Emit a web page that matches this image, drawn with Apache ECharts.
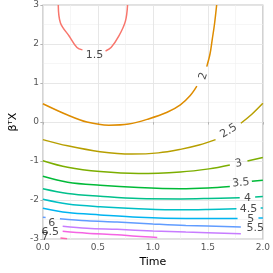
<!DOCTYPE html>
<html><head><meta charset="utf-8">
<script src="https://cdn.jsdelivr.net/npm/echarts@6/dist/echarts.min.js"></script>
<style>html,body{margin:0;padding:0;background:#fff}#c{width:273px;height:273px}</style>
</head><body><div id="c"></div>
<script>
// contour levels and colours
const levels = ['1.5','2','2.5','3','3.5','4','4.5','5','5.5','6','6.5','7'];
const levelColors = ['#F8766D','#DE8C00','#B79F00','#7CAE00','#00BA38','#00C08B','#00BFC4','#00B4F0','#619CFF','#C77CFF','#F564E3','#FF64B0'];

// contour line segments [time, beta'X]
const level15 = [
  [[0.14,3.0],[0.16,2.54],[0.24,2.2],[0.31,1.91],[0.36,1.85]],
  [[0.57,1.82],[0.62,1.91],[0.69,2.2],[0.75,2.58],[0.77,3.0]]
];
const level2 = [
  [[0,0.47],[0.225,0.18],[0.4,0.0],[0.6,-0.08],[0.78,-0.05],[0.96,0.08],[1.13,0.25],[1.25,0.44],[1.34,0.68],[1.40,0.92]],
  [[1.49,1.42],[1.52,1.75],[1.54,2.12],[1.56,2.5],[1.58,3.0]]
];
const level25 = [
  [[0,-0.45],[0.225,-0.61],[0.52,-0.76],[0.81,-0.82],[1.05,-0.79],[1.25,-0.70],[1.42,-0.59],[1.57,-0.45]],
  [[1.80,-0.03],[1.9,0.2],[2.0,0.48]]
];
const level3 = [
  [[0,-0.99],[0.225,-1.16],[0.52,-1.27],[0.87,-1.32],[1.25,-1.28],[1.51,-1.2],[1.70,-1.10]],
  [[1.86,-1.0],[2.0,-0.91]]
];
const level35 = [
  [[0,-1.39],[0.225,-1.54],[0.52,-1.62],[0.87,-1.68],[1.25,-1.71],[1.5,-1.69],[1.70,-1.65]],
  [[1.90,-1.52],[2.0,-1.49]]
];
const level4 = [
  [[0,-1.71],[0.225,-1.83],[0.52,-1.90],[0.87,-1.96],[1.25,-1.97],[1.5,-1.96],[1.79,-1.94]],
  [[1.93,-1.92],[2.0,-1.91]]
];
const level45 = [
  [[0,-1.98],[0.225,-2.10],[0.52,-2.17],[0.87,-2.22],[1.25,-2.25],[1.5,-2.24],[1.76,-2.22]],
  [[1.98,-2.2],[2.0,-2.2]]
];
const level5 = [
  [[0,-2.21],[0.225,-2.32],[0.52,-2.38],[0.87,-2.44],[1.3,-2.47],[1.77,-2.47]],
  [[1.96,-2.46],[2.0,-2.46]]
];
const level55 = [
  [[0,-2.44],[0.025,-2.445]],
  [[0.155,-2.48],[0.4,-2.53],[0.675,-2.56],[1.0,-2.61],[1.3,-2.65],[1.8,-2.69]]
];
const level6 = [
  [[0.18,-2.67],[0.4,-2.72],[0.675,-2.75],[1.0,-2.79],[1.3,-2.82],[1.8,-2.86]]
];
const level65 = [
  [[0.18,-2.80],[0.4,-2.85],[0.675,-2.89],[0.85,-2.93],[1.04,-2.96]]
];
const level7 = [
  [[0.16,-2.97],[0.22,-2.99]]
];
const levelSegments = [level15,level2,level25,level3,level35,level4,level45,level5,level55,level6,level65,level7];

// contour labels
const labelX = [0.47,1.46,1.69,1.78,1.80,1.86,1.87,1.89,1.93,0.08,0.066,0.02];
const labelY = [1.72,1.18,-0.23,-1.06,-1.56,-1.94,-2.23,-2.48,-2.71,-2.59,-2.81,-2.96];
const labelAngle = [0,72,32,12,5,0,0,0,0,0,0,0];

// axes
const xMin = 0, xMax = 2, xStep = 0.5;
const yMin = -3, yMax = 3, yStep = 1;

const series = [];
levelSegments.forEach((segs, i) => {
  segs.forEach(seg => {
    series.push({
      type: 'line', data: seg, showSymbol: false, smooth: 0.35,
      lineStyle: { color: levelColors[i], width: 1.5 }, silent: true, z: 3
    });
  });
});
series.push({
  type: 'scatter', symbolSize: 1, itemStyle: { color: 'transparent' }, z: 5, silent: true,
  data: levels.map((t, i) => ({
    value: [labelX[i], labelY[i]],
    label: { show: true, position: 'inside', formatter: t, rotate: labelAngle[i],
      color: '#1a1a1a', fontSize: 11, fontFamily: 'DejaVu Sans' }
  }))
});

const chart = echarts.init(document.getElementById('c'), null, { renderer: 'canvas' });
chart.setOption({
  animation: false,
  backgroundColor: '#ffffff',
  grid: { left: 41.5, right: 4.5, top: 5, bottom: 30, show: true, borderColor: '#c4c4c4', borderWidth: 1.2, backgroundColor: '#fff' },
  xAxis: {
    type: 'value', min: xMin, max: xMax, interval: xStep,
    name: 'Time', nameLocation: 'middle', nameGap: 16,
    nameTextStyle: { color: '#000', fontSize: 11, fontFamily: 'DejaVu Sans' },
    axisLine: { show: false },
    axisTick: { show: true, length: 2.5, lineStyle: { color: '#b3b3b3' } },
    axisLabel: { color: '#555', fontSize: 9, margin: 4, fontFamily: 'DejaVu Sans', formatter: v => v.toFixed(1) },
    splitLine: { show: true, lineStyle: { color: '#e4e4e4', width: 0.9 } },
    minorTick: { show: false, splitNumber: 2 },
    minorSplitLine: { show: true, lineStyle: { color: '#f0f0f0', width: 0.6 } }
  },
  yAxis: {
    type: 'value', min: yMin, max: yMax, interval: yStep,
    name: 'βᵀX', nameLocation: 'middle', nameGap: 23, nameRotate: 90,
    nameTextStyle: { color: '#000', fontSize: 11, fontFamily: 'DejaVu Sans' },
    axisLine: { show: false },
    axisTick: { show: true, length: 2.5, lineStyle: { color: '#b3b3b3' } },
    axisLabel: { color: '#555', fontSize: 9, margin: 4, fontFamily: 'DejaVu Sans' },
    splitLine: { show: true, lineStyle: { color: '#e4e4e4', width: 0.9 } },
    minorTick: { show: false, splitNumber: 2 },
    minorSplitLine: { show: true, lineStyle: { color: '#f0f0f0', width: 0.6 } }
  },
  series: series
});
</script>
</body></html>
